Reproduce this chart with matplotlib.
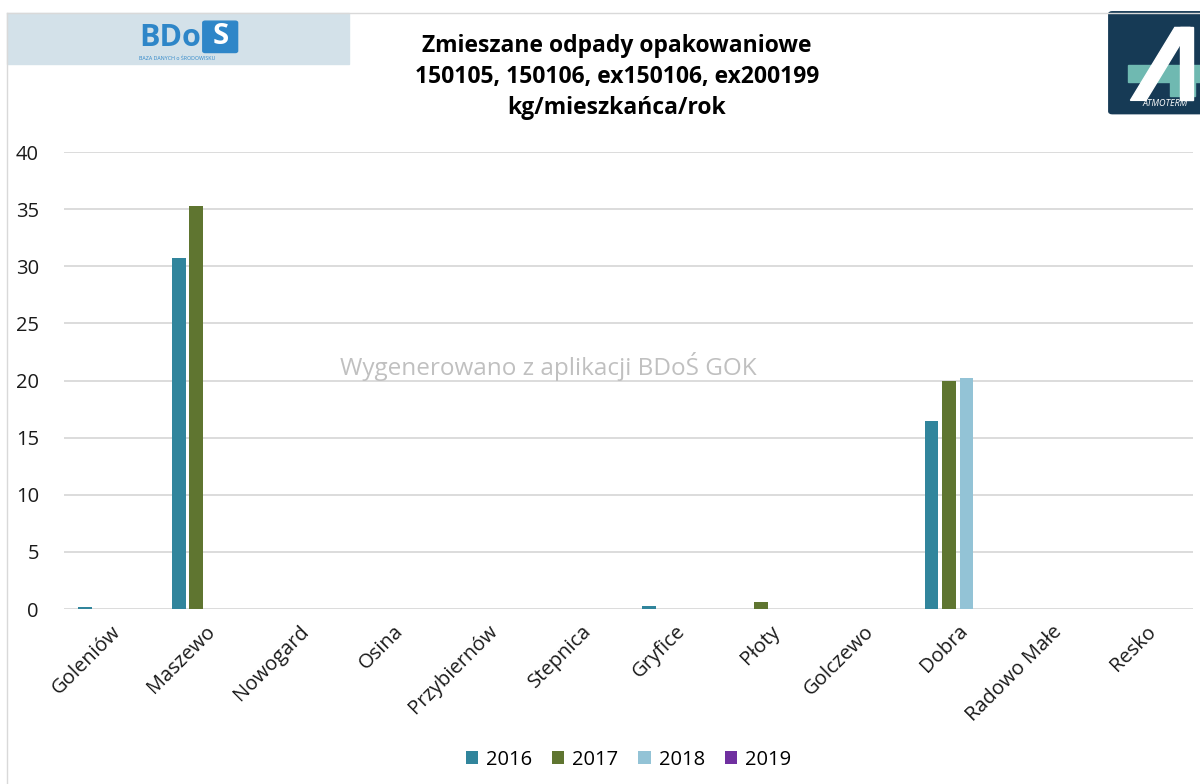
import numpy as np
import matplotlib.pyplot as plt
from matplotlib.patches import Rectangle, FancyBboxPatch, Polygon

plt.rcParams['font.family'] = ['Open Sans', 'DejaVu Sans']

gminy = ['Goleniów', 'Maszewo', 'Nowogard', 'Osina', 'Przybiernów', 'Stepnica',
         'Gryfice', 'Płoty', 'Golczewo', 'Dobra', 'Radowo Małe', 'Resko']
years = ['2016', '2017', '2018', '2019']
v2016 = [0.2, 30.7, 0, 0, 0, 0, 0.3, 0, 0, 16.5, 0, 0]
v2017 = [0, 35.3, 0, 0, 0, 0, 0, 0.6, 0, 20.0, 0, 0]
v2018 = [0, 0, 0, 0, 0, 0, 0, 0, 0, 20.2, 0, 0]
v2019 = [0, 0, 0, 0, 0, 0, 0, 0, 0, 0, 0, 0]
colors = ['#31859C', '#5F7530', '#93C3D6', '#7030A0']

fig = plt.figure(figsize=(12, 7.84), dpi=100)
ax = fig.add_axes([0.0533, 0.2232, 0.9407, 0.5829])

x = np.arange(len(gminy))
step = 0.186
width = 0.145
for i, (vals, yr) in enumerate(zip([v2016, v2017, v2018, v2019], years)):
    ax.bar(x + (i - 1.5) * step, vals, width, color=colors[i], label=yr, zorder=3)

ax.set_xlim(-0.5, len(gminy) - 0.5)
ax.set_ylim(0, 40)
ax.set_yticks(range(0, 41, 5))
ax.grid(axis='y', color='#D9D9D9', linewidth=1.3, zorder=0)
for s in ax.spines.values():
    s.set_visible(False)
ax.tick_params(axis='both', length=0, labelsize=14.5, colors='#1a1a1a')
ax.tick_params(axis='y', pad=18)
ax.tick_params(axis='x', pad=9)
ax.set_xticks(x)
ax.set_xticklabels(gminy, rotation=45, ha='right', rotation_mode='anchor')

ax.legend(loc='center', bbox_to_anchor=(0.5, -0.33), ncol=4, frameon=False,
          fontsize=14.5, handlelength=0.6, handleheight=0.6, columnspacing=1.0,
          handletextpad=0.4)

fig.text(0.514, 0.902, 'Zmieszane odpady opakowaniowe\n150105, 150106, ex150106, ex200199\nkg/mieszkańca/rok',
         ha='center', va='center', fontsize=16.5, fontweight='bold', linespacing=1.4)

fig.text(0.457, 0.532, 'Wygenerowano z aplikacji BDoŚ GOK', ha='center', va='center',
         fontsize=17.5, color='#C0C0C0')

# frame lines
fig.add_artist(plt.Line2D([0.006, 1.0], [0.984, 0.984], color='#D9D9D9', lw=1))
fig.add_artist(plt.Line2D([0.006, 0.006], [0.0, 0.984], color='#D9D9D9', lw=1))

# BDoS logo
fig.add_artist(Rectangle((0.006, 0.919), 0.285, 0.064, transform=fig.transFigure,
                         color='#D3E1E9', zorder=1))
fig.text(0.168, 0.952, 'BDo', ha='right', va='center', fontsize=22, fontweight='bold',
         color='#2E86C8', zorder=2)
fig.add_artist(FancyBboxPatch((0.171, 0.935), 0.025, 0.036, boxstyle='round,pad=0.002',
                              transform=fig.transFigure, color='#2E86C8', zorder=2))
fig.text(0.1835, 0.953, 'S', ha='center', va='center', fontsize=21, fontweight='bold',
         color='white', zorder=3)
fig.text(0.148, 0.926, 'BAZA DANYCH o ŚRODOWISKU', ha='center', va='center',
         fontsize=3.8, color='#2E86C8', zorder=2)

# Atmoterm logo
fig.add_artist(FancyBboxPatch((0.927, 0.858), 0.08, 0.124, boxstyle='round,pad=0.003',
                              transform=fig.transFigure, color='#163A55', zorder=1))
fig.add_artist(Rectangle((0.940, 0.895), 0.065, 0.022, transform=fig.transFigure,
                         color='#6FB9B1', zorder=2))
fig.add_artist(Rectangle((0.975, 0.878), 0.021, 0.035, transform=fig.transFigure,
                         color='#6FB9B1', zorder=2))
fig.add_artist(Polygon([[0.942, 0.872], [0.955, 0.872], [0.992, 0.965], [0.979, 0.965]],
                       closed=True, transform=fig.transFigure, color='white', zorder=3))
fig.add_artist(Polygon([[0.983, 0.965], [0.994, 0.965], [0.994, 0.872], [0.983, 0.872]],
                       closed=True, transform=fig.transFigure, color='white', zorder=3))
fig.text(0.952, 0.868, 'ATMOTERM', ha='left', va='center', fontsize=6.5, color='white',
         fontstyle='italic', zorder=3)

fig.savefig('out.png', dpi=100)
